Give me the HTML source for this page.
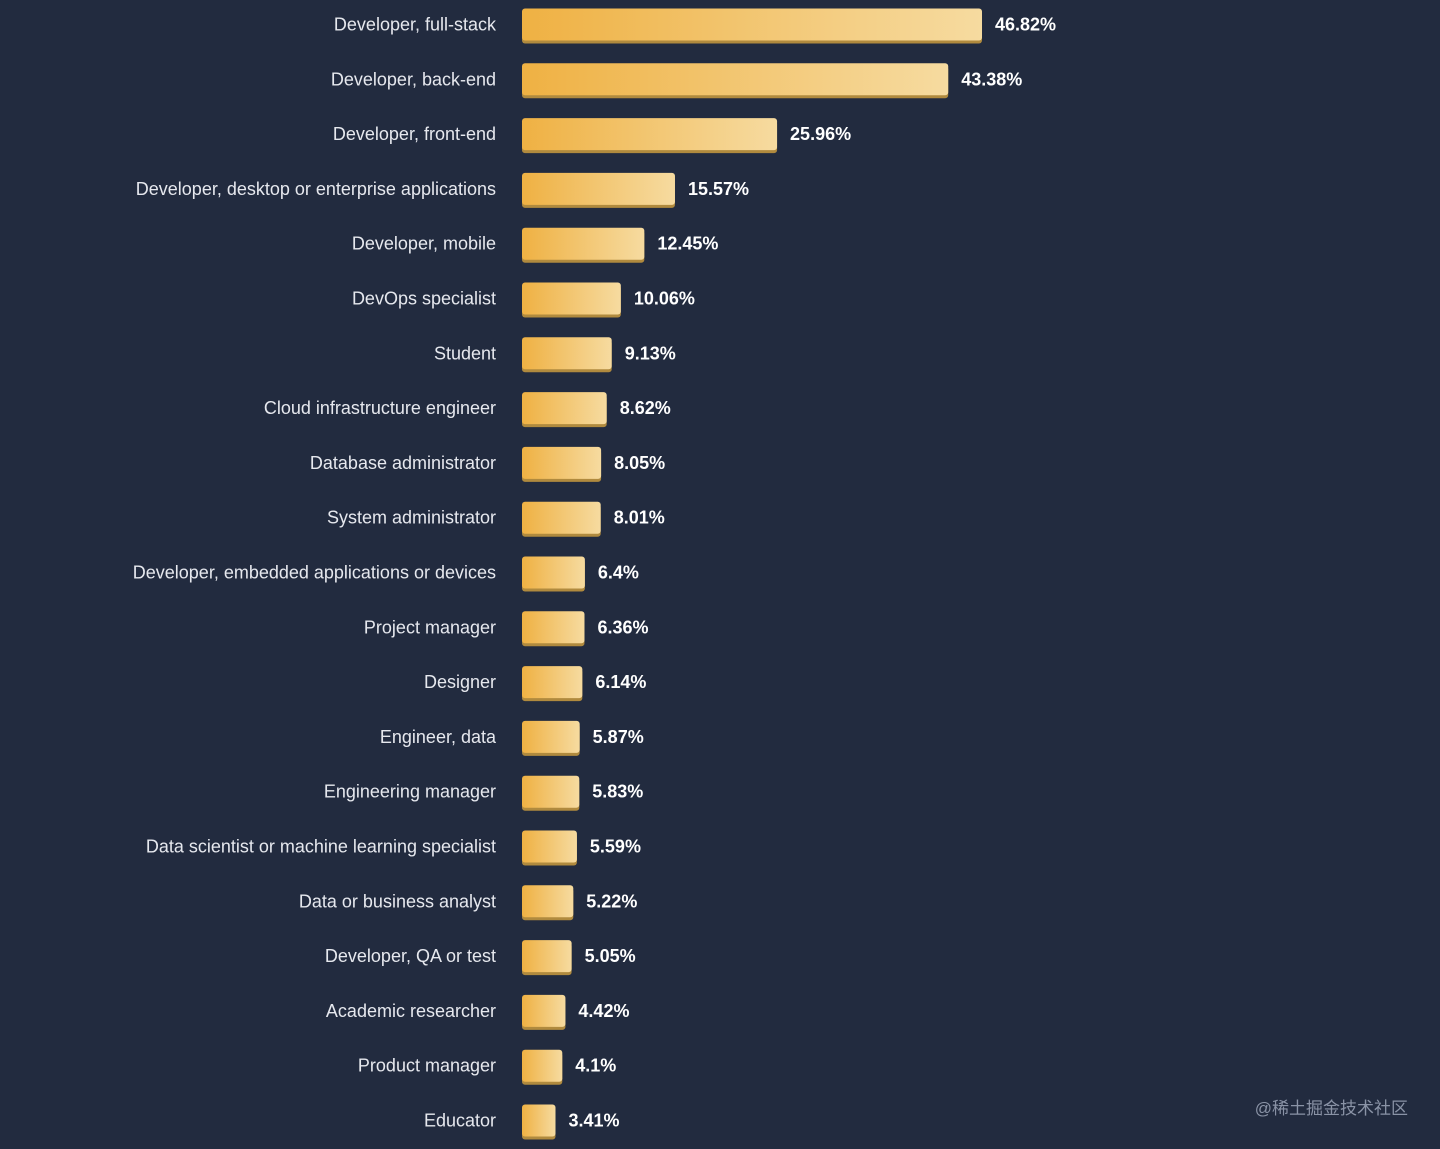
<!DOCTYPE html>
<html><head><meta charset="utf-8"><style>
html,body{margin:0;padding:0;background:#222b3f;width:1440px;height:1149px;overflow:hidden}
svg{display:block}
text{font-family:"Liberation Sans",sans-serif}
</style></head><body>
<svg id="chart" width="1440" height="1149" xmlns="http://www.w3.org/2000/svg">
<defs>
<linearGradient id="g" x1="0" x2="1" y1="0" y2="0"><stop offset="0" stop-color="#efb143"/><stop offset="1" stop-color="#f6dba0"/></linearGradient>
</defs>
<g id="bars"></g>
<text x="1408" y="1114" text-anchor="end" font-size="17" fill="#8a93a6" font-family="'Liberation Sans','Noto Sans CJK SC',sans-serif">@稀土掘金技术社区</text>
</svg>
<script>
const categories=["Developer, full-stack","Developer, back-end","Developer, front-end","Developer, desktop or enterprise applications","Developer, mobile","DevOps specialist","Student","Cloud infrastructure engineer","Database administrator","System administrator","Developer, embedded applications or devices","Project manager","Designer","Engineer, data","Engineering manager","Data scientist or machine learning specialist","Data or business analyst","Developer, QA or test","Academic researcher","Product manager","Educator"];
const values=[46.82,43.38,25.96,15.57,12.45,10.06,9.13,8.62,8.05,8.01,6.4,6.36,6.14,5.87,5.83,5.59,5.22,5.05,4.42,4.1,3.41];
const valueLabels=["46.82%","43.38%","25.96%","15.57%","12.45%","10.06%","9.13%","8.62%","8.05%","8.01%","6.4%","6.36%","6.14%","5.87%","5.83%","5.59%","5.22%","5.05%","4.42%","4.1%","3.41%"];
const x0=522, scale=9.825, y0=24.5, step=54.8, bh=32;
const xf=v=>v*scale, yf=i=>y0+i*step;
const NS="http://www.w3.org/2000/svg", g=document.getElementById('bars');
function mk(t,a){const e=document.createElementNS(NS,t);for(const k in a)e.setAttribute(k,a[k]);return e;}
categories.forEach((c,i)=>{
  const cy=yf(i), w=xf(values[i]);
  const sh=mk('rect',{x:x0,y:cy-bh/2+3,width:w,height:bh,rx:3,fill:'#b08a3e'});
  
  
  g.appendChild(sh);
  const r=mk('rect',{x:x0,y:cy-bh/2,width:w,height:bh,rx:3,fill:'url(#g)'});
  
  
  g.appendChild(r);
  const l=mk('text',{x:496,y:cy+6,'text-anchor':'end','font-size':18,fill:'#e6e8ee'});
  l.textContent=c;
  
  
  g.appendChild(l);
  const v=mk('text',{x:x0+w+13,y:cy+6,'font-size':18,'font-weight':'bold',fill:'#ffffff'});
  v.textContent=valueLabels[i];
  
  
  g.appendChild(v);
});
</script>
</body></html>
